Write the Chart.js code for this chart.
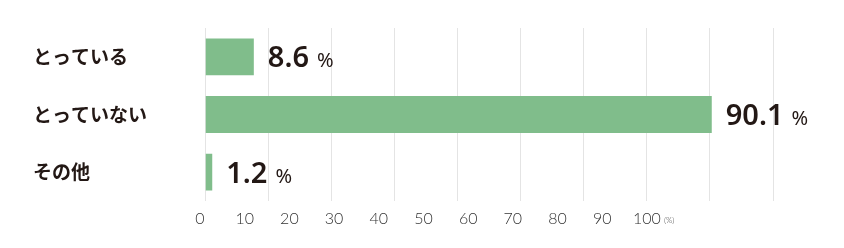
<!DOCTYPE html>
<html lang="ja">
<head>
<meta charset="utf-8">
<script src="https://cdn.jsdelivr.net/npm/chart.js@4"></script>
<style>
  html, body { margin: 0; padding: 0; background: #fff; }
  #wrap { position: relative; width: 844px; height: 248px; }
</style>
</head>
<body>
<div id="wrap"><canvas id="chart"></canvas></div>
<script>
// ── data ──
const CATEGORIES  = ["とっている", "とっていない", "その他"];
const VALUES      = [8.6, 90.1, 1.2];
const TICK_VALUES = [0, 10, 20, 30, 40, 50, 60, 70, 80, 90, 100];
const GRID_VALUES = [0, 10, 20, 30, 40, 50, 60, 70, 80, 90];
const UNIT        = "%";
const AXIS_UNIT   = "(%)";

const BAR_COLOR  = "#80bd8b";
const TEXT_COLOR = "#231815";

// value labels: big number + small "%", and the "(%)" after the 100 tick
const valueLabels = {
  id: "valueLabels",
  afterDatasetsDraw(chart) {
    const ctx = chart.ctx;
    const meta = chart.getDatasetMeta(0);
    ctx.save();
    ctx.fillStyle = TEXT_COLOR;
    ctx.textBaseline = "alphabetic";
    ctx.textAlign = "left";
    meta.data.forEach((bar, i) => {
      const x = bar.x + 14;
      const y = bar.y + 10.5;
      ctx.font = "600 29px 'Noto Sans'";
      const txt = VALUES[i].toFixed(1);
      ctx.fillText(txt, x, y);
      const w = ctx.measureText(txt).width;
      ctx.font = "400 20px 'Noto Sans'";
      ctx.fillText(UNIT, x + w + 8, y);
    });
    const s = chart.scales.xTicks;
    const px = s.getPixelForValue(100);
    ctx.font = "300 16px Lato";
    const w100 = ctx.measureText("100").width;
    ctx.font = "300 8px Lato";
    ctx.fillStyle = "#444";
    ctx.fillText(AXIS_UNIT, px + w100 / 2 + 3, 223);
    ctx.restore();
  }
};

new Chart(document.getElementById("chart"), {
  type: "bar",
  data: {
    labels: CATEGORIES,
    datasets: [{
      data: VALUES,
      backgroundColor: BAR_COLOR,
      borderWidth: 0,
      categoryPercentage: 0.8,
      barPercentage: 0.8,
      xAxisID: "x"
    }]
  },
  options: {
    indexAxis: "y",
    responsive: true, maintainAspectRatio: false, animation: false,
    layout: { padding: { left: 33, right: 71, top: 28, bottom: 0 } },
    plugins: { legend: { display: false }, tooltip: { enabled: false } },
    scales: {
      x: { type: "linear", min: 0, max: 101, display: false },
      xGrid: {
        type: "linear", position: "bottom", min: 0, max: 90,
        afterBuildTicks: s => { s.ticks = GRID_VALUES.map(v => ({ value: v })); },
        grid: { color: "#e4e4e4", lineWidth: 1, drawTicks: false },
        border: { display: false },
        ticks: { display: false },
        afterFit: s => { s.height = 0; }
      },
      xTicks: {
        type: "linear", position: "bottom", min: 1.23, max: 128.2,
        afterBuildTicks: s => { s.ticks = TICK_VALUES.map(v => ({ value: v })); },
        grid: { display: false },
        border: { display: false },
        ticks: {
          color: "#333", font: { family: "Lato", size: 16, weight: 300 },
          padding: 0, maxRotation: 0, autoSkip: false,
          callback: v => String(v)
        },
        afterFit: s => { s.height = 47; }
      },
      y: {
        grid: { display: false },
        border: { display: false },
        ticks: {
          color: TEXT_COLOR, crossAlign: "far", padding: 0,
          font: { family: "'Noto Sans CJK JP'", size: 19, weight: "bold" }
        },
        afterFit: s => { s.width = 172.5; }
      }
    }
  },
  plugins: [valueLabels]
});
</script>
</body>
</html>
